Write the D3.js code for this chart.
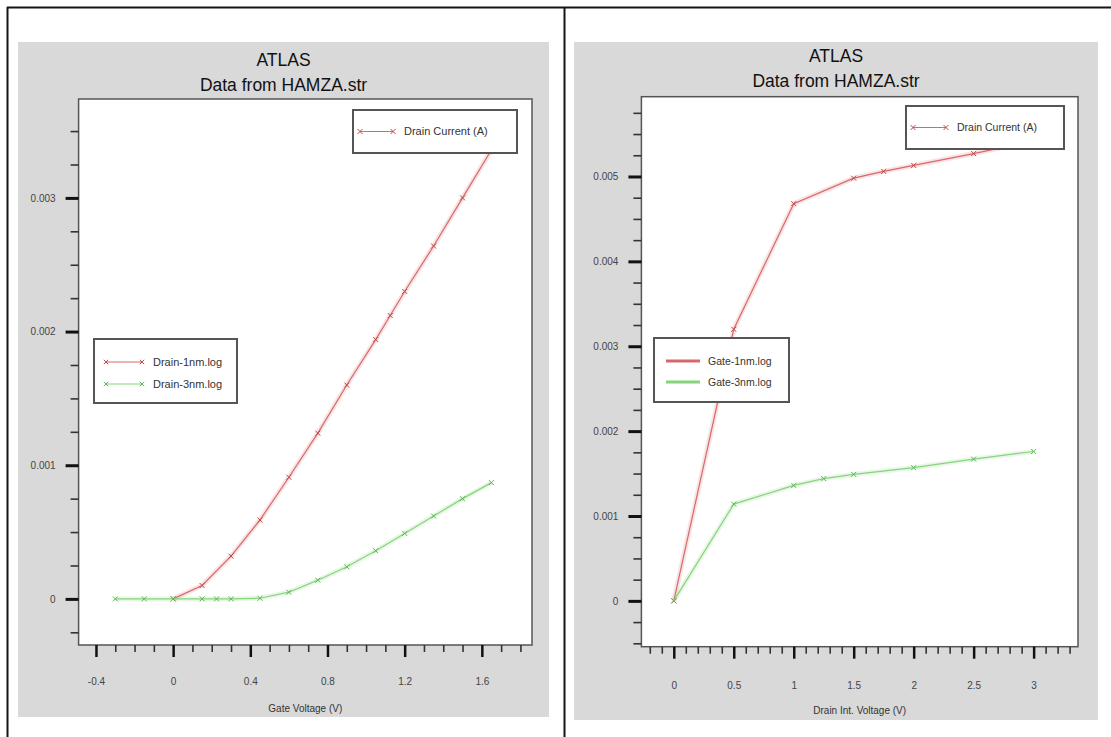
<!DOCTYPE html>
<html>
<head>
<meta charset="utf-8">
<script src="https://cdn.jsdelivr.net/npm/d3@7"></script>
<style>
  html, body { margin: 0; padding: 0; background: #fff; }
  svg { display: block; font-family: "Liberation Sans", Arial, sans-serif; }
</style>
</head>
<body>
<svg id="chart" width="1111" height="737"></svg>
<script>
// ---------- DATA ----------
// Left chart: Id vs Gate Voltage
const leftGateV1nm = [0, 0.15, 0.3, 0.45, 0.6, 0.75, 0.9, 1.05, 1.125, 1.2, 1.35, 1.5, 1.65];
const leftId1nm    = [0, 0.0001, 0.00032, 0.00059, 0.00091, 0.00124, 0.0016, 0.00194, 0.00212, 0.0023, 0.00264, 0.003, 0.00336];
const leftGateV3nm = [-0.3, -0.15, 0, 0.15, 0.225, 0.3, 0.45, 0.6, 0.75, 0.9, 1.05, 1.2, 1.35, 1.5, 1.65];
const leftId3nm    = [0, 0, 0, 0, 0, 0, 0.000005, 0.00005, 0.00014, 0.00024, 0.00036, 0.00049, 0.00062, 0.00075, 0.00087];

// Right chart: Id vs Drain Voltage
const rightDrainV1nm = [0, 0.5, 1, 1.5, 1.75, 2, 2.5, 3];
const rightId1nm     = [0, 0.0032, 0.00468, 0.00498, 0.00506, 0.00513, 0.00527, 0.00542];
const rightDrainV3nm = [0, 0.5, 1, 1.25, 1.5, 2, 2.5, 3];
const rightId3nm     = [0, 0.00114, 0.00136, 0.00144, 0.00149, 0.00157, 0.00167, 0.00176];

// Tick labels
const leftXTicks  = [-0.4, 0, 0.4, 0.8, 1.2, 1.6];
const leftXLabels = ["-0.4", "0", "0.4", "0.8", "1.2", "1.6"];
const leftYTicks  = [0, 0.001, 0.002, 0.003];
const leftYLabels = ["0", "0.001", "0.002", "0.003"];
const rightXTicks  = [0, 0.5, 1, 1.5, 2, 2.5, 3];
const rightXLabels = ["0", "0.5", "1", "1.5", "2", "2.5", "3"];
const rightYTicks  = [0, 0.001, 0.002, 0.003, 0.004, 0.005];
const rightYLabels = ["0", "0.001", "0.002", "0.003", "0.004", "0.005"];

// Texts
const titleLine1 = "ATLAS";
const titleLine2 = "Data from HAMZA.str";
const leftXTitle = "Gate Voltage (V)";
const rightXTitle = "Drain Int. Voltage (V)";
const topLegendLabel = "Drain Current (A)";
const leftSeriesNames = ["Drain-1nm.log", "Drain-3nm.log"];
const rightSeriesNames = ["Gate-1nm.log", "Gate-3nm.log"];

// ---------- DRAWING ----------
const svg = d3.select("#chart");
const RED = "#d86868", RED_M = "#c04848";
const GREEN = "#86d47c", GREEN_M = "#5fb85a";

// outer table frame
svg.append("line").attr("x1", 7).attr("x2", 1111).attr("y1", 7.5).attr("y2", 7.5).attr("stroke", "#151515").attr("stroke-width", 2);
svg.append("line").attr("x1", 7.5).attr("x2", 7.5).attr("y1", 7).attr("y2", 737).attr("stroke", "#151515").attr("stroke-width", 2);
svg.append("line").attr("x1", 564.5).attr("x2", 564.5).attr("y1", 7).attr("y2", 737).attr("stroke", "#151515").attr("stroke-width", 2);

function xMark(g, x, y, color, s) {
  g.append("path")
    .attr("d", `M${x - s},${y - s}L${x + s},${y + s}M${x - s},${y + s}L${x + s},${y - s}`)
    .attr("stroke", color).attr("stroke-width", 1).attr("fill", "none");
}

function drawPanel(cfg) {
  const g = svg.append("g");
  // gray background
  g.append("rect").attr("x", cfg.panel[0]).attr("y", cfg.panel[1])
    .attr("width", cfg.panel[2] - cfg.panel[0]).attr("height", cfg.panel[3] - cfg.panel[1])
    .attr("fill", "#d9d9d9");
  const cx = (cfg.panel[0] + cfg.panel[2]) / 2;
  g.append("text").attr("x", cx).attr("y", cfg.titleY[0]).attr("text-anchor", "middle")
    .attr("font-size", 17.5).attr("fill", "#111").text(titleLine1);
  g.append("text").attr("x", cx).attr("y", cfg.titleY[1]).attr("text-anchor", "middle")
    .attr("font-size", 17.5).attr("fill", "#111").text(titleLine2);

  const [L, T, R, B] = cfg.plot;
  const x = d3.scaleLinear().domain(cfg.xDomain).range([L, R]);
  const y = d3.scaleLinear().domain(cfg.yDomain).range([B, T]);

  g.append("rect").attr("x", L).attr("y", T).attr("width", R - L).attr("height", B - T)
    .attr("fill", "#fff").attr("stroke", "#555").attr("stroke-width", 1.5);

  // minor ticks
  const yMinor = g.append("g").attr("transform", `translate(${L},0)`)
    .call(d3.axisLeft(y).tickValues(cfg.yMinor).tickSize(8).tickFormat(""));
  yMinor.select(".domain").remove();
  yMinor.selectAll("line").attr("stroke", "#333").attr("stroke-width", 1.6);
  const xMinor = g.append("g").attr("transform", `translate(0,${B})`)
    .call(d3.axisBottom(x).tickValues(cfg.xMinor).tickSize(7).tickFormat(""));
  xMinor.select(".domain").remove();
  xMinor.selectAll("line").attr("stroke", "#333").attr("stroke-width", 1.6);

  // major ticks + labels
  const yAx = g.append("g").attr("transform", `translate(${L},0)`)
    .call(d3.axisLeft(y).tickValues(cfg.yTicks).tickSize(13).tickPadding(10)
      .tickFormat((d, i) => cfg.yLabels[i]));
  yAx.select(".domain").remove();
  yAx.selectAll("line").attr("stroke", "#111").attr("stroke-width", 3);
  yAx.selectAll("text").attr("font-size", 10).attr("fill", "#444")
    .attr("font-family", "'Liberation Sans', Arial, sans-serif");

  const xAx = g.append("g").attr("transform", `translate(0,${B})`)
    .call(d3.axisBottom(x).tickValues(cfg.xTicks).tickSize(12).tickPadding(cfg.xPad)
      .tickFormat((d, i) => cfg.xLabels[i]));
  xAx.select(".domain").remove();
  xAx.selectAll("line").attr("stroke", "#111").attr("stroke-width", 2.5);
  xAx.selectAll("text").attr("font-size", 10).attr("fill", "#444")
    .attr("font-family", "'Liberation Sans', Arial, sans-serif");

  g.append("text").attr("x", (L + R) / 2).attr("y", cfg.xTitleY).attr("text-anchor", "middle")
    .attr("font-size", 10).attr("fill", "#333").text(cfg.xTitle);

  // series
  const line = d3.line().x(d => x(d[0])).y(d => y(d[1]));
  const drawSeries = (xs, ys, col, mcol) => {
    const pts = xs.map((v, i) => [v, ys[i]]);
    g.append("path").datum(pts).attr("d", line).attr("fill", "none")
      .attr("stroke", col).attr("stroke-opacity", 0.18).attr("stroke-width", 5);
    g.append("path").datum(pts).attr("d", line).attr("fill", "none")
      .attr("stroke", col).attr("stroke-width", 1.2);
    pts.forEach(p => xMark(g, x(p[0]), y(p[1]), mcol, 2.5));
  };
  drawSeries(cfg.s1[0], cfg.s1[1], RED, RED_M);
  drawSeries(cfg.s2[0], cfg.s2[1], GREEN, GREEN_M);

  // top legend
  const tl = cfg.topLegend;
  g.append("rect").attr("x", tl[0]).attr("y", tl[1]).attr("width", tl[2] - tl[0]).attr("height", tl[3] - tl[1])
    .attr("fill", "#fff").attr("stroke", "#555").attr("stroke-width", 2);
  const ly = (tl[1] + tl[3]) / 2;
  g.append("line").attr("x1", tl[0] + 7).attr("x2", tl[0] + 40).attr("y1", ly).attr("y2", ly)
    .attr("stroke", RED).attr("stroke-width", 1.2);
  xMark(g, tl[0] + 7, ly, RED_M, 2.5);
  xMark(g, tl[0] + 40, ly, RED_M, 2.5);
  g.append("text").attr("x", tl[0] + 51).attr("y", ly + 3.5).attr("font-size", cfg.legFont)
    .attr("fill", "#333").text(topLegendLabel);

  // series legend
  const sl = cfg.seriesLegend;
  g.append("rect").attr("x", sl[0]).attr("y", sl[1]).attr("width", sl[2] - sl[0]).attr("height", sl[3] - sl[1])
    .attr("fill", "#fff").attr("stroke", "#555").attr("stroke-width", 2);
  const cols = [[RED, RED_M], [GREEN, GREEN_M]];
  cfg.seriesNames.forEach((name, i) => {
    const yy = cfg.seriesRows[i];
    g.append("line").attr("x1", sl[0] + 12).attr("x2", sl[0] + 12 + cfg.legLineLen).attr("y1", yy).attr("y2", yy)
      .attr("stroke", cols[i][0]).attr("stroke-width", cfg.legLineW);
    if (cfg.legLineW < 2) {
      xMark(g, sl[0] + 12, yy, cols[i][1], 2.2);
      xMark(g, sl[0] + 12 + cfg.legLineLen, yy, cols[i][1], 2.2);
    }
    g.append("text").attr("x", sl[0] + cfg.legTextOff).attr("y", yy + 4).attr("font-size", cfg.legFont)
      .attr("fill", "#333").text(name);
  });
}

drawPanel({
  panel: [18, 42, 549, 717],
  titleY: [66, 91],
  plot: [78.6, 99, 532, 645],
  xDomain: [-0.49, 1.86],
  yDomain: [-0.000345, 0.00374],
  xTicks: leftXTicks, xLabels: leftXLabels,
  yTicks: leftYTicks, yLabels: leftYLabels,
  xMinor: d3.range(-4, 19).map(v => v / 10).filter(v => Math.abs(v * 10 % 4) > 1e-9),
  yMinor: d3.range(-1, 15).map(v => v * 0.00025).filter(v => Math.round(v / 0.00025) % 4 !== 0),
  xPad: 21, xTitleY: 712, xTitle: leftXTitle,
  s1: [leftGateV1nm, leftId1nm], s2: [leftGateV3nm, leftId3nm],
  topLegend: [353, 110, 517, 153],
  seriesLegend: [94, 339, 237, 403],
  seriesRows: [362, 384],
  seriesNames: leftSeriesNames,
  legLineLen: 36, legLineW: 1.2, legTextOff: 59, legFont: 11
});

drawPanel({
  panel: [574, 42, 1098, 720],
  titleY: [62, 87],
  plot: [641.4, 96.7, 1078, 646.7],
  xDomain: [-0.27, 3.37],
  yDomain: [-0.00054, 0.00594],
  xTicks: rightXTicks, xLabels: rightXLabels,
  yTicks: rightYTicks, yLabels: rightYLabels,
  xMinor: d3.range(-2, 34).map(v => v / 10).filter(v => Math.round(v * 10) % 5 !== 0),
  yMinor: d3.range(-2, 24).map(v => v * 0.00025).filter(v => Math.round(v / 0.00025) % 4 !== 0),
  xPad: 23, xTitleY: 714, xTitle: rightXTitle,
  s1: [rightDrainV1nm, rightId1nm], s2: [rightDrainV3nm, rightId3nm],
  topLegend: [906, 106, 1064, 149],
  seriesLegend: [654, 338, 789, 402],
  seriesRows: [361, 382],
  seriesNames: rightSeriesNames,
  legLineLen: 34, legLineW: 3, legTextOff: 54, legFont: 10.5
});
</script>
</body>
</html>
